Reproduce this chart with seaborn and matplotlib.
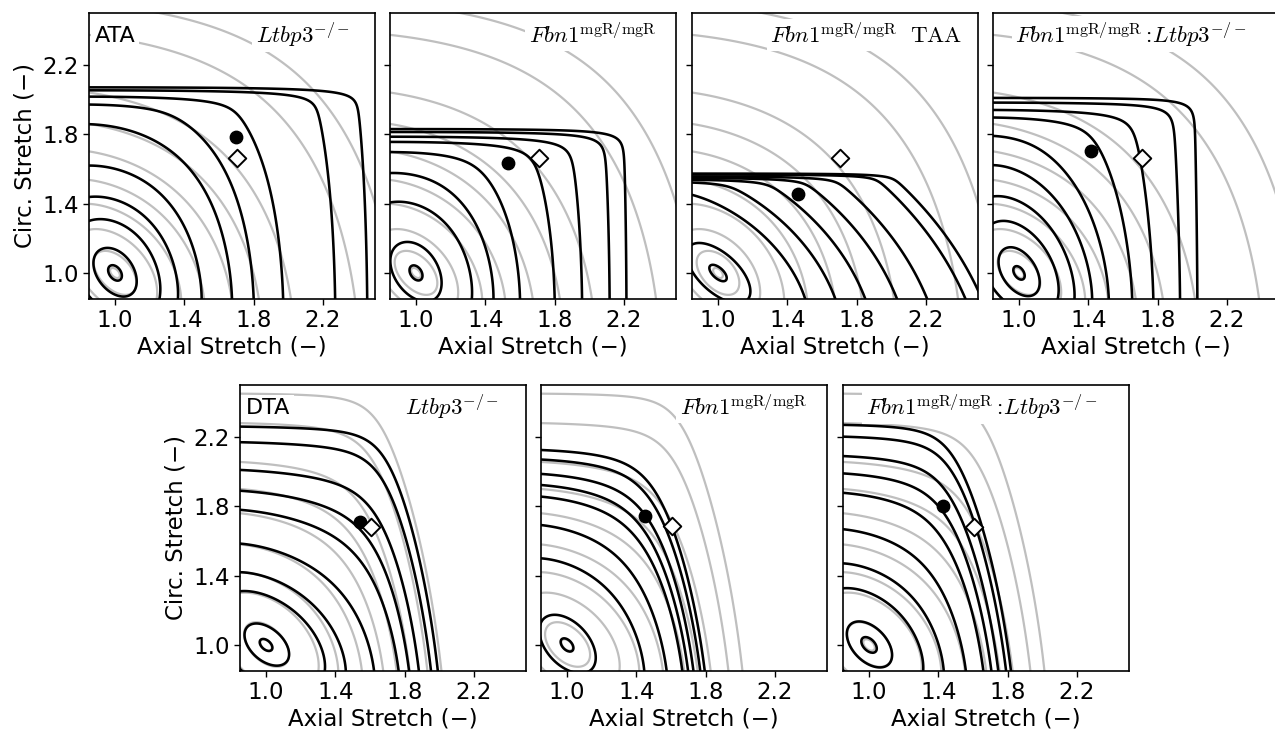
import numpy as np
import matplotlib
matplotlib.use("Agg")
import matplotlib.pyplot as plt
import seaborn as sns

sns.set_style("ticks")
plt.rcParams["font.family"] = ["DejaVu Sans"]
plt.rcParams["mathtext.fontset"] = "cm"
plt.rcParams["text.color"] = "black"
plt.rcParams["axes.labelcolor"] = "black"
plt.rcParams["xtick.color"] = "black"
plt.rcParams["ytick.color"] = "black"
plt.rcParams["axes.edgecolor"] = "black"

# ---------------- data ----------------
stretch_lim = (0.85, 2.5)
tick_values = [1.0, 1.4, 1.8, 2.2]
tick_labels = ["1.0", "1.4", "1.8", "2.2"]

# Strain-energy models: neo-Hookean c plus fibre families (angle from axial [deg], c1, c2).
# Contour levels are the energy at the anchor points (axial, circ) where each contour
# crosses in the reference picture.
nh_c = 1.0

# reference (grey) model, ascending thoracic aorta
ata_ref_angle = [0, 90, 45]
ata_ref_c1 = [0.8, 0.6, 2.0]
ata_ref_c2 = [0.001, 0.03, 0.001]
ata_ref_anchor_z = [1.025, 1.11, 1.22, 1.35, 1.48, 1.64, 1.83, 2.015, 2.385, 2.5]
ata_ref_anchor_t = [1.0, 1.0, 1.0, 1.0, 1.0, 1.0, 0.85, 0.85, 0.85, 1.40]

# reference (grey) model, descending thoracic aorta
dta_ref_angle = [27, 90]
dta_ref_c1 = [0.6, 0.4]
dta_ref_c2 = [0.85, 0.13]
dta_ref_anchor_z = [1.03, 1.12, 0.85, 0.85, 0.85, 0.85, 0.85, 0.85, 0.85, 0.85]
dta_ref_anchor_t = [1.0, 1.0, 1.30, 1.42, 1.58, 1.76, 1.90, 2.056, 2.28, 2.45]

# ATA Ltbp3-/-
ata_l_angle = [0, 90, 90]
ata_l_c1 = [1.04, 0.4, 6.9e-6]
ata_l_c2 = [0.05, 0.01, 1.5]
ata_l_anchor_z = [1.037, 1.118, 1.256, 1.363, 1.50, 1.675, 1.80, 1.97, 2.27, 2.455]
ata_l_anchor_t = [1.0, 1.0, 0.85, 0.85, 0.85, 0.85, 0.85, 0.85, 0.85, 0.85]

# ATA Fbn1 mgR/mgR
ata_f_angle = [0, 90, 90]
ata_f_c1 = [1.2, 0.36, 3.75e-3]
ata_f_c2 = [0.15, 0.01, 1.9]
ata_f_anchor_z = [1.035, 1.14, 1.322, 1.447, 1.60, 1.80, 1.958, 2.117, 2.214]
ata_f_anchor_t = [1.0, 1.0, 0.85, 0.85, 0.85, 0.85, 0.85, 0.85, 0.85]

# ATA Fbn1 mgR/mgR TAA
ata_taa_angle = [0, 50.5, 90]
ata_taa_c1 = [0.4, 4.0, 4.5e-7]
ata_taa_c2 = [0.05, 0.74, 10.0]
ata_taa_anchor_z = [1.04, 1.15, 1.503, 1.677, 1.85, 2.033, 2.207, 2.428, 2.5]
ata_taa_anchor_t = [1.0, 1.0, 0.85, 0.85, 0.85, 0.85, 0.85, 0.85, 0.9]

# ATA Fbn1 mgR/mgR : Ltbp3-/-
ata_fl_angle = [0, 90]
ata_fl_c1 = [0.8, 8.5e-4]
ata_fl_c2 = [0.3, 1.2]
ata_fl_anchor_z = [1.03, 1.11, 1.223, 1.32, 1.422, 1.518, 1.653, 1.775, 1.929, 2.029]
ata_fl_anchor_t = [1.0, 1.0, 0.85, 0.85, 0.85, 0.85, 0.85, 0.85, 0.85, 0.85]

# DTA Ltbp3-/-
dta_l_angle = [27, 90]
dta_l_c1 = [0.26, 0.4]
dta_l_c2 = [0.9, 0.15]
dta_l_anchor_z = [1.033, 1.12, 0.85, 0.85, 0.85, 0.85, 0.85, 0.85, 0.85, 0.85]
dta_l_anchor_t = [1.0, 1.0, 1.31, 1.42, 1.585, 1.78, 1.89, 2.01, 2.17, 2.26]

# DTA Fbn1 mgR/mgR
dta_f_angle = [27, 90]
dta_f_c1 = [0.976, 0.4]
dta_f_c2 = [1.0, 0.15]
dta_f_anchor_z = [1.033, 1.15, 0.85, 0.85, 0.85, 0.85, 0.85, 0.85, 0.85]
dta_f_anchor_t = [1.0, 1.0, 1.50, 1.692, 1.856, 1.923, 1.987, 2.07, 2.125]

# DTA Fbn1 mgR/mgR : Ltbp3-/-
dta_fl_angle = [27, 90]
dta_fl_c1 = [0.8, 0.4]
dta_fl_c2 = [1.3, 0.15]
dta_fl_anchor_z = [1.04, 1.12, 0.85, 0.85, 0.85, 0.85, 0.85, 0.85, 0.85, 0.85]
dta_fl_anchor_t = [1.0, 1.0, 1.327, 1.471, 1.668, 1.878, 1.99, 2.09, 2.202, 2.27]

# in vivo points: filled circle (genotype) and open diamond (reference)
circle_z = [1.70, 1.53, 1.46, 1.415, 1.54, 1.45, 1.425]
circle_t = [1.785, 1.633, 1.454, 1.704, 1.71, 1.746, 1.804]
diamond_z = [1.705, 1.71, 1.705, 1.71, 1.607, 1.605, 1.603]
diamond_t = [1.662, 1.662, 1.665, 1.664, 1.683, 1.688, 1.683]

region_labels = ["ATA", None, None, None, "DTA", None, None]
genotype_labels = [
    r"$Ltbp3^{-/-}$",
    r"$Fbn1^{\mathrm{mgR/mgR}}$",
    r"$Fbn1^{\mathrm{mgR/mgR}}\ \ \mathrm{TAA}$",
    r"$Fbn1^{\mathrm{mgR/mgR}}:\!Ltbp3^{-/-}$",
    r"$Ltbp3^{-/-}$",
    r"$Fbn1^{\mathrm{mgR/mgR}}$",
    r"$Fbn1^{\mathrm{mgR/mgR}}:\!Ltbp3^{-/-}$",
]
x_label = "Axial Stretch (\u2212)"
y_label = "Circ. Stretch (\u2212)"

# ---------------- model ----------------
def energy(lz, lt, angles, c1s, c2s, c=nh_c):
    lz = np.asarray(lz, float)
    lt = np.asarray(lt, float)
    w = 0.5 * c * (lz ** 2 + lt ** 2 + 1.0 / (lz ** 2 * lt ** 2) - 3.0)
    for a, c1, c2 in zip(angles, c1s, c2s):
        ar = np.deg2rad(a)
        lam2 = lz ** 2 * np.cos(ar) ** 2 + lt ** 2 * np.sin(ar) ** 2
        q = (lam2 - 1.0) ** 2
        w = w + c1 / (4.0 * c2) * (np.exp(np.minimum(c2 * q, 600.0)) - 1.0)
    return w

models = {
    "ata_ref": (ata_ref_angle, ata_ref_c1, ata_ref_c2, ata_ref_anchor_z, ata_ref_anchor_t),
    "dta_ref": (dta_ref_angle, dta_ref_c1, dta_ref_c2, dta_ref_anchor_z, dta_ref_anchor_t),
    "ata_l": (ata_l_angle, ata_l_c1, ata_l_c2, ata_l_anchor_z, ata_l_anchor_t),
    "ata_f": (ata_f_angle, ata_f_c1, ata_f_c2, ata_f_anchor_z, ata_f_anchor_t),
    "ata_taa": (ata_taa_angle, ata_taa_c1, ata_taa_c2, ata_taa_anchor_z, ata_taa_anchor_t),
    "ata_fl": (ata_fl_angle, ata_fl_c1, ata_fl_c2, ata_fl_anchor_z, ata_fl_anchor_t),
    "dta_l": (dta_l_angle, dta_l_c1, dta_l_c2, dta_l_anchor_z, dta_l_anchor_t),
    "dta_f": (dta_f_angle, dta_f_c1, dta_f_c2, dta_f_anchor_z, dta_f_anchor_t),
    "dta_fl": (dta_fl_angle, dta_fl_c1, dta_fl_c2, dta_fl_anchor_z, dta_fl_anchor_t),
}

gz = np.linspace(0.80, 2.56, 700)
gt = np.linspace(0.80, 2.56, 700)
GZ, GT = np.meshgrid(gz, gt)

def draw_model(ax, key, color, lw, zorder):
    ang, c1, c2, az, at = models[key]
    wgrid = energy(GZ, GT, ang, c1, c2)
    lev = np.unique(np.round(energy(az, at, ang, c1, c2), 10))
    ax.contour(gz, gt, wgrid, levels=lev, colors=color, linewidths=lw,
               linestyles="solid", zorder=zorder)

# ---------------- layout ----------------
FW, FH = 1275, 729
fig = plt.figure(figsize=(FW / 100, FH / 100), dpi=100)
size_px = 286
panel_px = [(89, 13), (390, 13), (692, 13), (993, 13), (240, 385), (541, 385), (843, 385)]
black_keys = ["ata_l", "ata_f", "ata_taa", "ata_fl", "dta_l", "dta_f", "dta_fl"]
grey_keys = ["ata_ref"] * 4 + ["dta_ref"] * 3
label_right = [0.912, 0.93, 0.945, 0.888, 0.906, 0.93, 0.89]
first_in_row = [True, False, False, False, True, False, False]

for i, (lx, ty) in enumerate(panel_px):
    ax = fig.add_axes([lx / FW, 1 - (ty + size_px) / FH, size_px / FW, size_px / FH])
    draw_model(ax, grey_keys[i], "#bfbfbf", 1.6, 2)
    draw_model(ax, black_keys[i], "black", 1.85, 3)
    sns.scatterplot(x=[circle_z[i]], y=[circle_t[i]], ax=ax, marker="o", s=80,
                    color="black", edgecolor="black", linewidth=1, zorder=6, legend=False)
    sns.scatterplot(x=[diamond_z[i]], y=[diamond_t[i]], ax=ax, marker="D", s=80,
                    facecolor="white", edgecolor="black", linewidth=1.4, zorder=6, legend=False)
    ax.set_xlim(*stretch_lim)
    ax.set_ylim(*stretch_lim)
    ax.set_xticks(tick_values)
    ax.set_xticklabels(tick_labels)
    ax.set_yticks(tick_values)
    if first_in_row[i]:
        ax.set_yticklabels(tick_labels)
        ax.set_ylabel(y_label, fontsize=16.5, labelpad=4)
    else:
        ax.set_yticklabels([])
        ax.set_ylabel("")
    ax.set_xlabel(x_label, fontsize=16.5, labelpad=2)
    ax.tick_params(labelsize=16.5, length=4, width=1, direction="out", colors="black")
    for sp in ax.spines.values():
        sp.set_linewidth(1.2)
        sp.set_color("black")
    bbox = dict(facecolor="white", edgecolor="none", pad=2.5)
    if region_labels[i]:
        ax.text(0.02, 0.897, region_labels[i], transform=ax.transAxes, fontsize=16,
                ha="left", va="baseline", zorder=5, bbox=bbox, color="black")
    ax.text(label_right[i], 0.897, genotype_labels[i], transform=ax.transAxes,
            fontsize=16.5, ha="right", va="baseline", zorder=5, bbox=bbox, color="black")

fig.savefig("out.png", dpi=100)
